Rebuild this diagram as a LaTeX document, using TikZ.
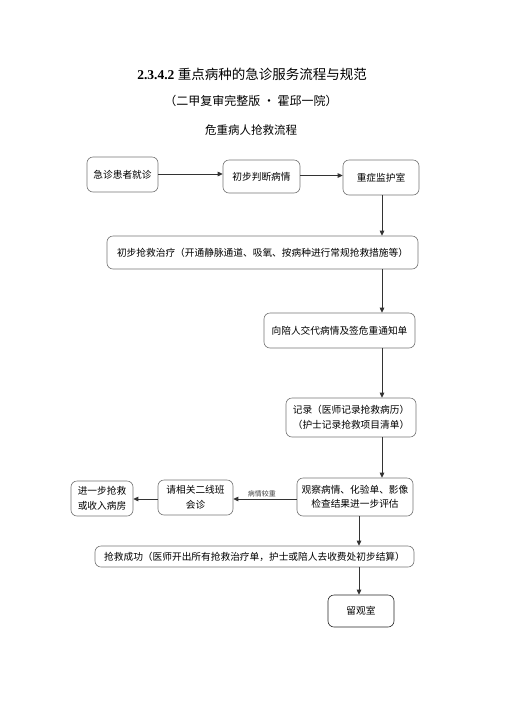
\documentclass[tikz,border=0pt]{standalone}
\usepackage{fontspec}
\setmainfont{Liberation Serif}
\newfontfamily\cjk{Noto Sans CJK SC}
\usetikzlibrary{arrows.meta}
\begin{document}
\begin{tikzpicture}[x=1pt,y=-1pt,
 box/.style={draw=black!55, line width=0.6pt, rounded corners=6pt, inner sep=0pt, align=center,
   font=\cjk\fontsize{9.7}{14}\selectfont},
 arr/.style={draw=black!80, line width=0.9pt, -{Triangle[length=5pt,width=4.5pt]}},
 lbl/.style={font=\cjk\fontsize{7}{8}\selectfont, text=black!75, inner sep=1pt}]
\useasboundingbox (0,0) rectangle (504,713);
\node[font=\fontsize{13.5}{16}\selectfont] (t1) at (252,74) {\textbf{2.3.4.2} {\cjk 重点病种的急诊服务流程与规范}};
\node[font=\cjk\fontsize{12}{14}\selectfont] (t2) at (251,101) {（二甲复审完整版 • 霍邱一院）};
\node[font=\cjk\fontsize{11.5}{14}\selectfont] (t3) at (251,130) {危重病人抢救流程};

\node[box, minimum width=71pt, minimum height=35pt] (n1) at (122.5,174.5) {急诊患者就诊};
\node[box, minimum width=77pt, minimum height=33pt] (n2) at (261.5,176.5) {初步判断病情};
\node[box, minimum width=76pt, minimum height=35pt] (n3) at (381,177.5) {重症监护室};
\node[box, minimum width=311pt, minimum height=33pt] (n4) at (262.5,252.5) {初步抢救治疗（开通静脉通道、吸氧、按病种进行常规抢救措施等）};
\node[box, minimum width=151pt, minimum height=35pt] (n5) at (339.5,330.5) {向陪人交代病情及签危重通知单};
\node[box, minimum width=130pt, minimum height=39pt, font=\cjk\fontsize{9.7}{15}\selectfont] (n6) at (351,417.5) {记录（医师记录抢救病历）\\（护士记录抢救项目清单）};
\node[box, minimum width=116pt, minimum height=38pt, font=\cjk\fontsize{9.7}{13.5}\selectfont] (n7) at (355,497) {观察病情、化验单、影像\\检查结果进一步评估};
\node[box, minimum width=75pt, minimum height=35pt, font=\cjk\fontsize{9.7}{14.5}\selectfont] (n10) at (195.5,497.5) {请相关二线班\\会诊};
\node[box, minimum width=62pt, minimum height=35pt, font=\cjk\fontsize{9.7}{14.5}\selectfont] (n11) at (102,498.5) {进一步抢救\\或收入病房};
\node[box, minimum width=319pt, minimum height=21pt] (n8) at (254.5,556.5) {抢救成功（医师开出所有抢救治疗单，护士或陪人去收费处初步结算）};
\node[box, draw=black!85, minimum width=66pt, minimum height=32pt] (n9) at (361,611) {留观室};

\coordinate (cA) at (382,0);
\coordinate (cB) at (359,0);
\coordinate (rA) at (0,174);
\coordinate (rB) at (0,175.5);
\coordinate (rC) at (0,499);

\draw[arr] (n1.east |- rA) -- (n2.west |- rA);
\draw[arr] (n2.east |- rB) -- (n3.west |- rB);
\draw[arr] (n3.south -| cA) -- (n4.north -| cA);
\draw[arr] (n4.south -| cA) -- (n5.north -| cA);
\draw[arr] (n5.south -| cA) -- (n6.north -| cA);
\draw[arr] (n6.south -| cA) -- (n7.north -| cA);
\draw[arr] (n7.west |- rC) -- node[lbl, above, pos=0.55] {病情较重} (n10.east |- rC);
\draw[arr] (n10.west |- rC) -- (n11.east |- rC);
\draw[arr] (n7.south -| cB) -- (n8.north -| cB);
\draw[arr] (n8.south -| cB) -- (n9.north -| cB);
\end{tikzpicture}
\end{document}
